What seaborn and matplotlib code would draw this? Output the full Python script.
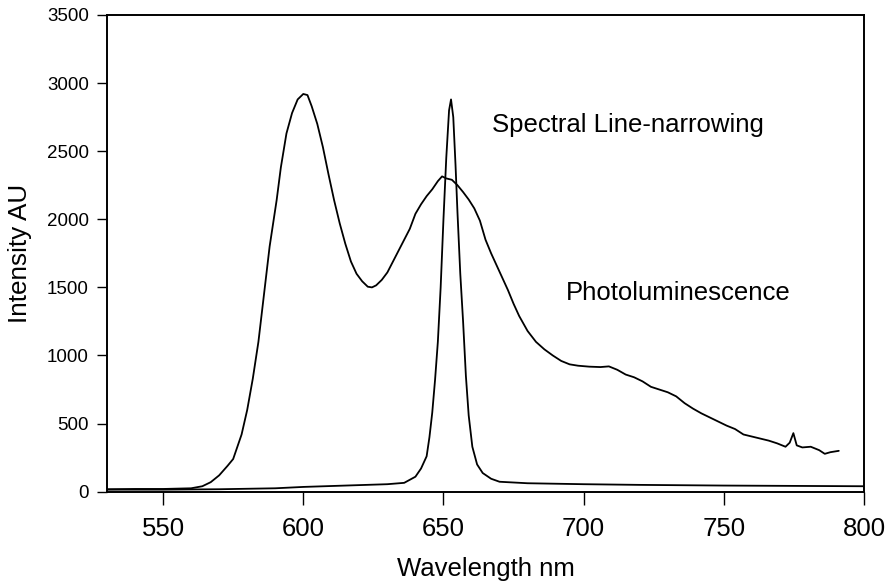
import numpy as np
import pandas as pd
import matplotlib
matplotlib.use("Agg")
import matplotlib.pyplot as plt
import seaborn as sns

# Photoluminescence spectrum
pl_wavelength = [530, 540, 550, 560, 564, 567, 570, 573, 575, 578, 580, 582, 584, 586, 588,
                 590.5, 592, 594, 596, 598, 600, 601.5, 603, 605, 607, 609, 611, 613, 615,
                 617, 619, 621, 623, 624.5, 626, 628, 630, 632, 634, 636, 638, 640, 642,
                 644, 646, 648, 649.5, 651, 653, 655, 657, 659, 661, 663, 665, 667, 669,
                 671, 673, 675, 677, 680, 683, 686, 689, 692, 695, 698, 702, 706, 709,
                 712, 715, 718, 721, 724, 727, 730, 733, 736, 739, 742, 745, 748, 751,
                 754, 757, 760, 763, 766, 769, 772, 773.5, 774.8, 776, 778, 781, 784,
                 786, 788, 791]
pl_intensity = [18, 20, 20, 25, 40, 70, 120, 190, 240, 420, 600, 830, 1100, 1450, 1800,
                2140, 2380, 2630, 2780, 2880, 2920, 2912, 2830, 2700, 2530, 2330, 2140, 1970, 1820,
                1690, 1600, 1545, 1505, 1500, 1515, 1555, 1610, 1690, 1770, 1850, 1930, 2040, 2110,
                2170, 2220, 2280, 2315, 2300, 2290, 2250, 2200, 2145, 2080, 1990, 1850, 1750, 1660,
                1570, 1480, 1380, 1290, 1180, 1100, 1045, 1000, 960, 935, 925, 918, 915, 920,
                895, 860, 840, 810, 770, 750, 730, 700, 650, 610, 575, 545, 515, 485,
                460, 420, 405, 390, 375, 355, 330, 360, 430, 340, 325, 330, 305,
                278, 290, 300]

# Spectral line-narrowing spectrum
sln_wavelength = [530, 550, 570, 590, 600, 615, 630, 636, 640, 642, 644, 645, 646, 647, 648,
                  649, 650, 651, 652, 652.7, 653.5, 654.3, 655, 656, 657, 658, 659, 660.3,
                  662, 664, 667, 670, 680, 700, 720, 750, 780, 800]
sln_intensity = [15, 15, 18, 25, 35, 45, 55, 65, 110, 170, 260, 400, 580, 820, 1100,
                 1500, 2000, 2450, 2800, 2880, 2750, 2400, 2050, 1600, 1250, 850, 560, 330,
                 200, 137, 95, 73, 62, 55, 50, 45, 42, 40]

x_ticks = [550, 600, 650, 700, 750, 800]
y_ticks = [0, 500, 1000, 1500, 2000, 2500, 3000, 3500]

sns.set_theme(style="ticks")
plt.rcParams['font.family'] = ['Liberation Sans', 'DejaVu Sans']

pl_df = pd.DataFrame({"Wavelength": pl_wavelength, "Intensity": pl_intensity})
sln_df = pd.DataFrame({"Wavelength": sln_wavelength, "Intensity": sln_intensity})

fig = plt.figure(figsize=(8.88, 5.85), dpi=100)
ax = fig.add_axes([0.1205, 0.1595, 0.8525, 0.8149])

sns.lineplot(data=pl_df, x="Wavelength", y="Intensity", ax=ax, color="black", linewidth=1.3)
sns.lineplot(data=sln_df, x="Wavelength", y="Intensity", ax=ax, color="black", linewidth=1.3)

ax.set_xlim(530, 800)
ax.set_ylim(0, 3500)
ax.set_xticks(x_ticks)
ax.set_yticks(y_ticks)
ax.tick_params(axis="x", labelsize=18.5, length=9, width=1.0, direction="out", pad=9, colors="black")
ax.tick_params(axis="y", labelsize=13.5, length=7, width=1.0, direction="out", pad=6, colors="black")
for s in ax.spines.values():
    s.set_visible(True)
    s.set_color("black")
    s.set_linewidth(1.4)

ax.set_xlabel("Wavelength nm", fontsize=18.5, color="black", labelpad=12)
ax.set_ylabel("Intensity AU", fontsize=18.8, color="black")
ax.yaxis.set_label_coords(-0.099, 0.5)

ax.text(667.3, 2641, "Spectral Line-narrowing", fontsize=18.5, color="black", va="baseline", ha="left")
ax.text(693.6, 1407, "Photoluminescence", fontsize=18.5, color="black", va="baseline", ha="left")

fig.savefig("out.png", dpi=100, facecolor="white")
